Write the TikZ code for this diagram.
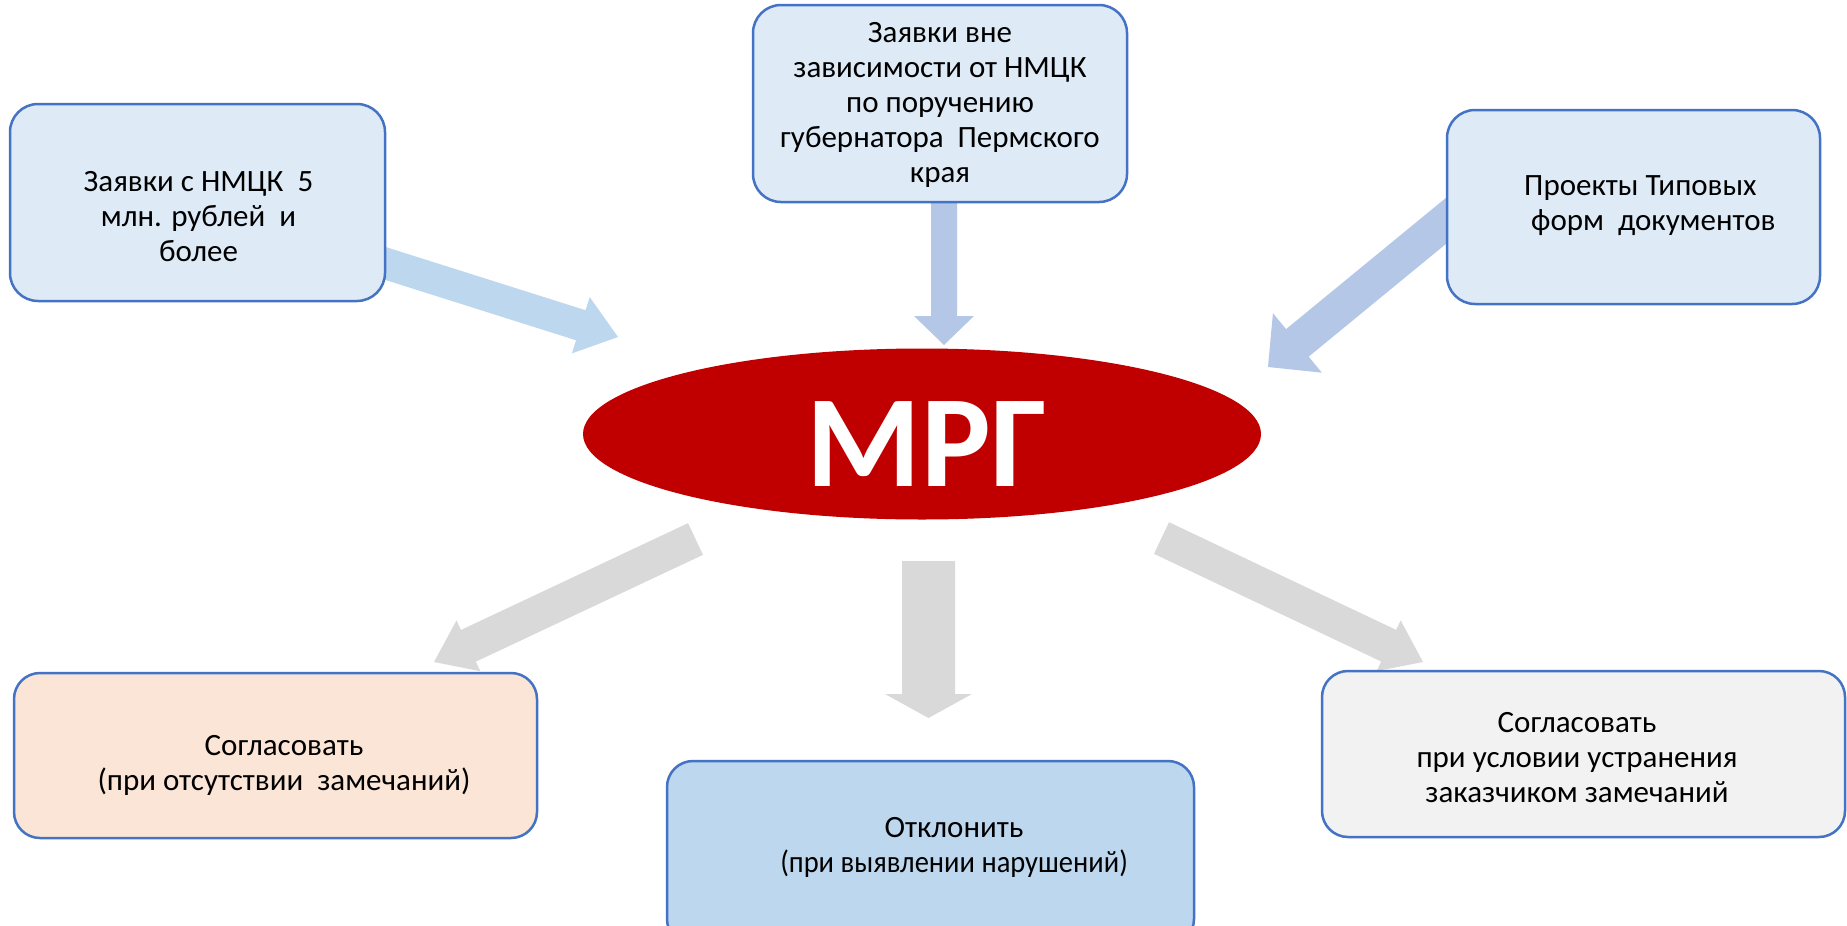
\documentclass[tikz,border=0pt]{standalone}
\usepackage{fontspec}
\setmainfont{Carlito}
\usetikzlibrary{calc,shapes.geometric,backgrounds}
\definecolor{boxblue}{HTML}{DEEBF7}
\definecolor{bordblue}{HTML}{4472C4}
\definecolor{arrA}{HTML}{BDD7EE}
\definecolor{arrB}{HTML}{B4C7E7}
\definecolor{mrgred}{HTML}{C00000}
\definecolor{arrgray}{HTML}{D9D9D9}
\definecolor{peachfill}{HTML}{FBE5D6}
\definecolor{midblue}{HTML}{BDD7EE}
\definecolor{fillgray}{HTML}{F2F2F2}
% block arrow: #1 start, #2 tip, #3 half shaft, #4 half head, #5 head length, #6 style
\newcommand\blkarrow[6]{%
  \coordinate (ba) at ($(#2)!#5!(#1)$);
  \fill[#6] ($(#1)!#3!90:(#2)$) -- ($(ba)!#3!-90:(#1)$) -- ($(ba)!#4!-90:(#1)$) -- (#2)
     -- ($(ba)!#4!90:(#1)$) -- ($(ba)!#3!90:(#1)$) -- ($(#1)!#3!-90:(#2)$) -- cycle;}
\begin{document}
\begin{tikzpicture}[x=1pt,y=-1pt,
  topbox/.style={draw=bordblue, line width=2.5pt, rounded corners=28pt, fill=boxblue, inner sep=0pt},
  botbox/.style={draw=bordblue, line width=2.5pt, rounded corners=26pt, inner sep=0pt},
  txt/.style={font=\fontsize{31}{35}\selectfont, align=center, inner sep=0pt, text=black},
  bigtxt/.style={font=\fontsize{131}{135}\selectfont\bfseries, text=white, inner sep=0pt},
  upA/.style={fill=arrA},
  upB/.style={fill=arrB},
  downG/.style={fill=arrgray}]
\useasboundingbox (0,0) rectangle (1847,926);
\clip (0,0) rectangle (1847,926);
% boxes
\node[topbox, minimum width=375pt, minimum height=197pt] (b1) at (197.5,202.5) {};
\node[topbox, minimum width=374pt, minimum height=197pt] (b2) at (940,103.5) {};
\node[topbox, minimum width=373pt, minimum height=194pt] (b3) at (1633.5,207) {};
\node[botbox, fill=peachfill, minimum width=523pt, minimum height=165pt] (bl) at (275.5,755.5) {};
\node[botbox, fill=midblue, minimum width=527pt, minimum height=184pt] (bm) at (930.5,853) {};
\node[botbox, fill=fillgray, minimum width=523pt, minimum height=166pt] (br) at (1583.5,754) {};
\node[ellipse, fill=mrgred, minimum width=678pt, minimum height=171pt, inner sep=0pt] (mrg) at (922,434) {};
% texts
\node[txt] (t1) at (198.5,217) {Заявки с НМЦК~ 5\\млн. рублей~ и\\более};
\node[txt] (t2) at (940,105) {Заявки вне\\зависимости от НМЦК\\по поручению\\губернатора~ Пермского\\края};
\node[txt, align=left, anchor=west] (t3) at (1524,206) {Проекты Типовых\\\hspace*{7pt}форм~ документов};
\node[txt] (tl) at (284,765) {Согласовать\\(при отсутствии~ замечаний)};
\node[txt] (tm) at (954,847) {Отклонить\\\scalebox{0.92}[1]{(при выявлении нарушений)}};
\node[txt] (tr) at (1577,758) {Согласовать\\при условии устранения\\заказчиком замечаний};
\node[bigtxt] (mt) at (927,444.5) {МРГ};
% arrow ends
\coordinate (a1s) at (365,257);    \coordinate (a1t) at (618,337);
\coordinate (a2s) at (944,190);    \coordinate (a2t) at (944,345);
\coordinate (a3s) at (1462.5,207.3); \coordinate (a3t) at (1268,367);
\coordinate (a4s) at (695.5,539);  \coordinate (a4t) at (434,662);
\coordinate (a5s) at (928.5,561);  \coordinate (a5t) at (928.5,718);
\coordinate (a6s) at (1161.5,538); \coordinate (a6t) at (1423,662);
\begin{pgfonlayer}{background}
\fill[white] (0,0) rectangle (1847,926);
\blkarrow{a1s}{a1t}{15.75pt}{29.5pt}{39pt}{upA}
\blkarrow{a2s}{a2t}{13pt}{30pt}{29pt}{upB}
\blkarrow{a3s}{a3t}{17.8pt}{38.5pt}{38pt}{upB}
\blkarrow{a4s}{a4t}{17.5pt}{28pt}{38pt}{downG}
\blkarrow{a5s}{a5t}{26.5pt}{43.5pt}{24pt}{downG}
\blkarrow{a6s}{a6t}{17.5pt}{28pt}{38pt}{downG}
\end{pgfonlayer}
\end{tikzpicture}
\end{document}
